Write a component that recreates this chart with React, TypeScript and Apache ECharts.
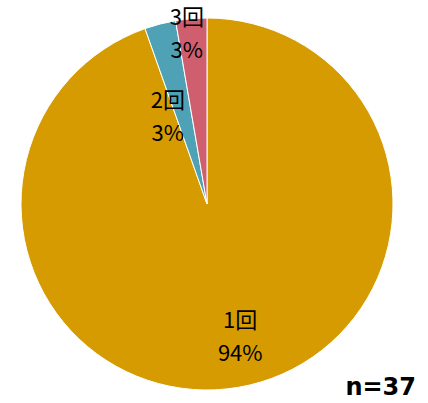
import React, { useEffect, useRef } from "react";
import * as echarts from "echarts";

const categories = ["1回", "2回", "3回"];
const values = [35, 1, 1];
const colors = ["#D59B00", "#4FA2B6", "#CF5F6E"];
const labelOffsets: [number, number][] = [[17, 36], [-15, 3], [-12, -77]];
const sampleLabel = "n=37";

export default function App() {
  const ref = useRef<HTMLDivElement>(null);
  useEffect(() => {
    const chart = echarts.init(ref.current!, null, { renderer: "svg" });
    chart.setOption({
      animation: false,
      graphic: [
        {
          type: "text",
          right: 12,
          top: 375,
          style: {
            text: sampleLabel,
            font: "bold 24px 'DejaVu Sans', sans-serif",
            fill: "#000",
          },
        },
      ],
      series: [
        {
          type: "pie",
          center: [207, 204],
          radius: [0, 186],
          startAngle: 90,
          clockwise: true,
          percentPrecision: 0,
          avoidLabelOverlap: false,
          itemStyle: { borderColor: "#fff", borderWidth: 1 },
          label: {
            show: true,
            position: "inside",
            formatter: "{b}\n{d}%",
            fontSize: 22,
            lineHeight: 33,
            color: "#000",
            fontFamily: "'Noto Sans CJK JP', sans-serif",
          },
          labelLine: { show: false },
          data: categories.map((c, i) => ({
            name: c,
            value: values[i],
            itemStyle: { color: colors[i] },
            label: { offset: labelOffsets[i] },
          })),
        },
      ],
    });
    return () => chart.dispose();
  }, []);
  return (
    <div
      ref={ref}
      style={{ position: "absolute", left: 0, top: 0, width: 428, height: 403 }}
    />
  );
}
